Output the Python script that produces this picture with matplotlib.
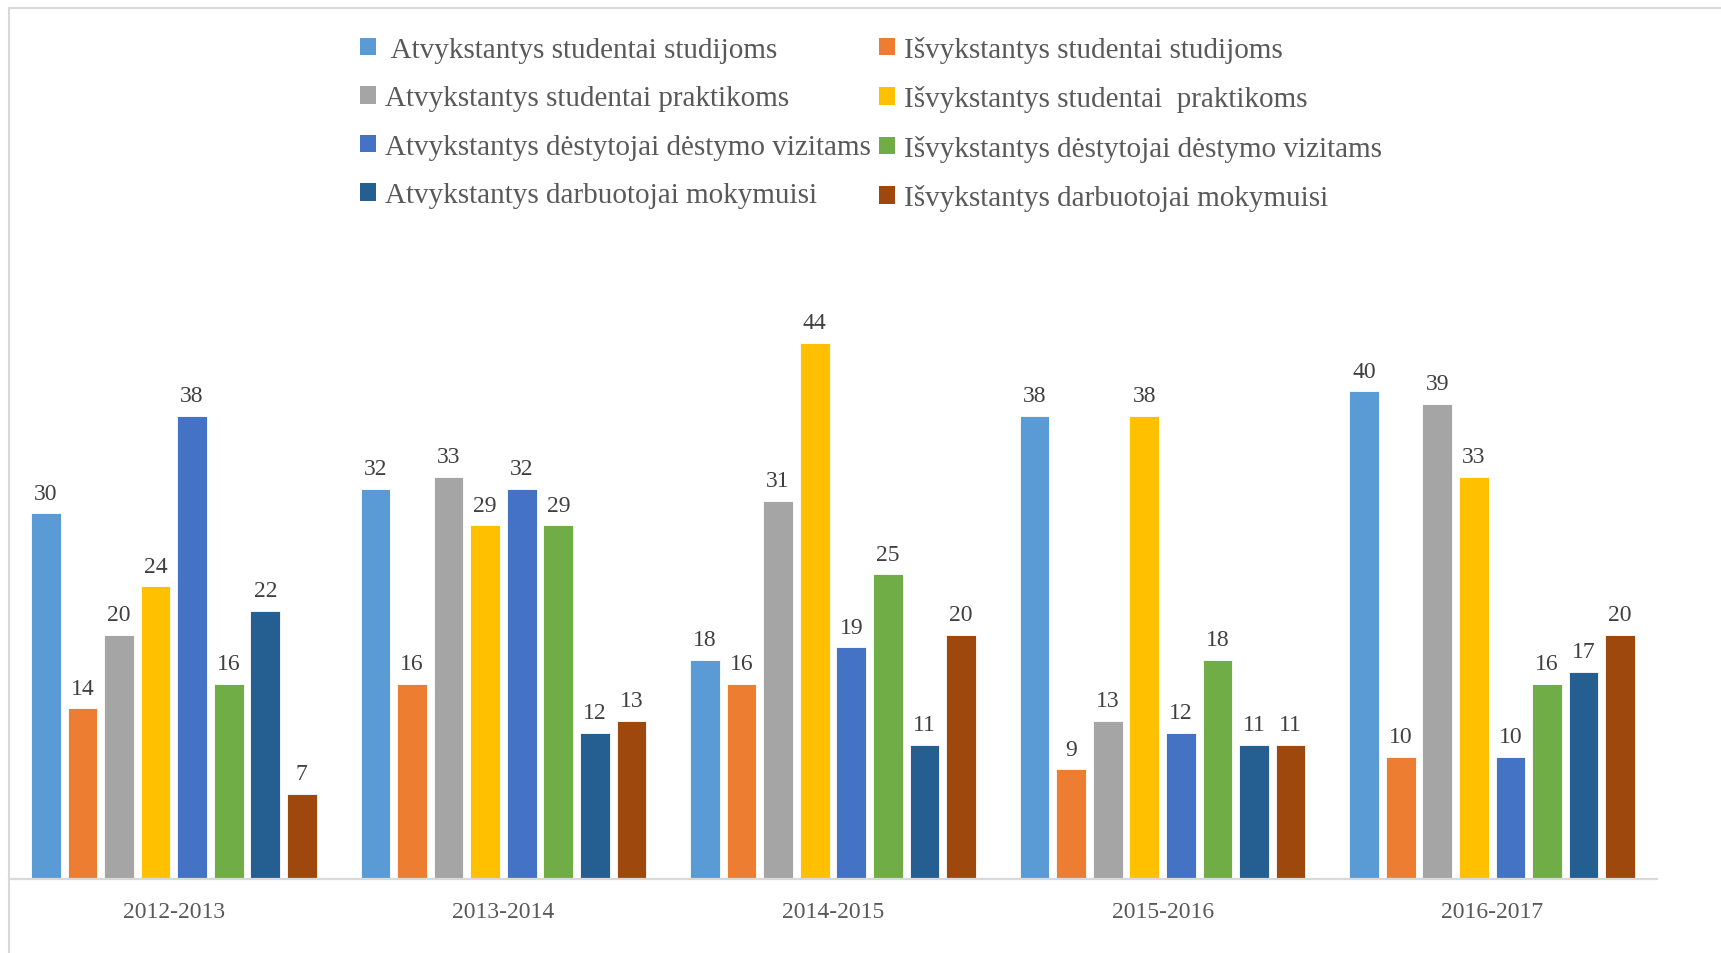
import matplotlib
matplotlib.use("Agg")
import matplotlib.pyplot as plt
from matplotlib.patches import Patch
from matplotlib.lines import Line2D
import numpy as np

plt.rcParams['font.family'] = ['Liberation Serif', 'DejaVu Serif']

categories = ["2012-2013", "2013-2014", "2014-2015", "2015-2016", "2016-2017"]
series_names = [
    " Atvykstantys studentai studijoms",
    "Išvykstantys studentai studijoms",
    "Atvykstantys studentai praktikoms",
    "Išvykstantys studentai  praktikoms",
    "Atvykstantys dėstytojai dėstymo vizitams",
    "Išvykstantys dėstytojai dėstymo vizitams",
    "Atvykstantys darbuotojai mokymuisi",
    "Išvykstantys darbuotojai mokymuisi",
]
atv_stud_studijoms = [30, 32, 18, 38, 40]
isv_stud_studijoms = [14, 16, 16, 9, 10]
atv_stud_praktikoms = [20, 33, 31, 13, 39]
isv_stud_praktikoms = [24, 29, 44, 38, 33]
atv_dest_vizitams = [38, 32, 19, 12, 10]
isv_dest_vizitams = [16, 29, 25, 18, 16]
atv_darb_mokymuisi = [22, 12, 11, 11, 17]
isv_darb_mokymuisi = [7, 13, 20, 11, 20]
values = [atv_stud_studijoms, isv_stud_studijoms, atv_stud_praktikoms, isv_stud_praktikoms,
          atv_dest_vizitams, isv_dest_vizitams, atv_darb_mokymuisi, isv_darb_mokymuisi]
colors = ["#5B9BD5", "#ED7D31", "#A5A5A5", "#FFC000", "#4472C4", "#70AD47", "#255E91", "#9E480E"]

W, H = 1721, 954
fig = plt.figure(figsize=(W / 100, H / 100), dpi=100)
ax = fig.add_axes([9 / W, (H - 880) / H, (1657 - 9) / W, (880 - 270.5) / H])

x = np.arange(len(categories))
step = 0.111
bw = 0.09
n = len(values)
for i, (vals, c) in enumerate(zip(values, colors)):
    pos = x + (i - (n - 1) / 2) * step
    bars = ax.bar(pos, vals, width=bw, color=c, edgecolor="white", linewidth=0.6, zorder=2)
    for b, v in zip(bars, vals):
        ax.annotate(str(v), (b.get_x() + b.get_width() / 2, v), xytext=(0, 7),
                    textcoords="offset points", ha="center", va="bottom",
                    fontsize=17, color="#404040")

ax.set_xlim(-0.5, len(categories) - 0.5)
ax.set_ylim(0, 50)
ax.set_xticks(x)
ax.set_xticklabels(categories, fontsize=17, color="#595959")
ax.tick_params(axis="x", length=0, pad=16)
ax.set_yticks([])
for s in ["top", "right", "left"]:
    ax.spines[s].set_visible(False)
ax.spines["bottom"].set_color("#D9D9D9")
ax.spines["bottom"].set_linewidth(1.6)

# figure border (left and top visible)
fig.add_artist(Line2D([9 / W, 9 / W], [0, (H - 9) / H], color="#D9D9D9", lw=1.5, transform=fig.transFigure))
fig.add_artist(Line2D([9 / W, 1], [(H - 9) / H, (H - 9) / H], color="#D9D9D9", lw=1.5, transform=fig.transFigure))

handles = [Patch(facecolor=c, edgecolor="none") for c in colors]
order = [0, 2, 4, 6, 1, 3, 5, 7]
leg = fig.legend([handles[i] for i in order], [series_names[i] for i in order],
                 ncol=2, loc="upper left", bbox_to_anchor=(360 / W, (H - 37) / H),
                 frameon=False, fontsize=21, handlelength=0.55, handleheight=0.55,
                 handletextpad=0.3, columnspacing=0.3, labelspacing=0.77, borderpad=0,
                 borderaxespad=0)
for t in leg.get_texts():
    t.set_color("#595959")

fig.savefig("out.png", dpi=100)
